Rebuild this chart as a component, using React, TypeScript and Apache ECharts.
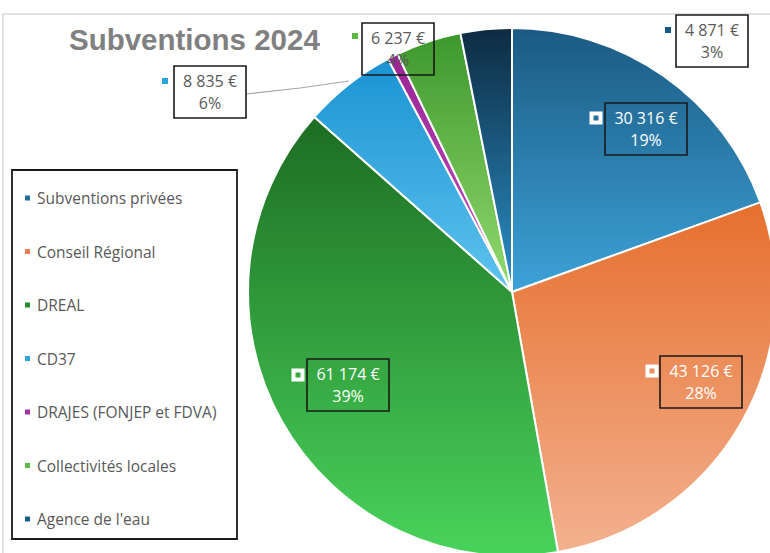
import React, { useEffect, useRef } from "react";
import * as echarts from "echarts";

const categories = [
  "Subventions privées",
  "Conseil Régional",
  "DREAL",
  "CD37",
  "DRAJES (FONJEP et FDVA)",
  "Collectivités locales",
  "Agence de l'eau",
];
const values = [30316, 43126, 61174, 8835, 1000, 6237, 4871];

const gradTop = ["#1b5a82", "#e66f2e", "#1d6d22", "#1a93d2", "#9a2494", "#3d982c", "#0d2b41"];
const gradBottom = ["#3da2d8", "#f3b18f", "#49d35b", "#5fc3ef", "#c452c2", "#93da6e", "#2b91ca"];
const legendColors = ["#1f6e9c", "#e8804a", "#238b2e", "#2aa5e0", "#a631a3", "#5ab844", "#155a82"];

// label layout (centre of each label box / marker), null = no label
const labelCenters: (number[] | null)[] = [[646, 129], [701, 382], [348, 385], [210, 92], null, [398, 49], [712, 41]];
const markerCenters: (number[] | null)[] = [[596, 118], [652, 371], [298, 375], [165, 81], null, [355, 36], [668, 30]];
const insideLabel = [true, true, true, false, false, false, false];

const fmt = (v: number) => v.toString().replace(/\B(?=(\d{3})+(?!\d))/g, " ");
const FONT = "'Open Sans', 'Noto Sans', sans-serif";

export default function App() {
  const ref = useRef<HTMLDivElement>(null);
  useEffect(() => {
    if (!ref.current) return;
    const chart = echarts.init(ref.current, undefined, { renderer: "svg" });

    const mainData = categories.map((name, i) => ({
      name,
      value: values[i],
      itemStyle: {
        color: new echarts.graphic.LinearGradient(0, 0, 0, 1, [
          { offset: 0, color: gradTop[i] },
          { offset: 1, color: gradBottom[i] },
        ]),
      },
      label: {
        show: labelCenters[i] !== null,
        color: insideLabel[i] ? "#ffffff" : "#595959",
        width: insideLabel[i] ? 66 : 56,
      },
      labelLine: { show: i === 3, lineStyle: { color: "#a6a6a6", width: 1.2 } },
    }));

    const markerData = categories.map((name, i) => ({
      name,
      value: values[i],
      label: {
        show: markerCenters[i] !== null,
        formatter: "{m|}",
        rich: {
          m: insideLabel[i]
            ? { width: 9, height: 9, borderColor: "#ffffff", borderWidth: 2, backgroundColor: "transparent" }
            : { width: 6, height: 6, backgroundColor: legendColors[i] },
        },
      },
    }));

    chart.setOption({
      animation: false,
      title: {
        text: "Subventions 2024",
        left: 69,
        top: 22,
        padding: 0,
        textStyle: {
          fontFamily: "'Liberation Sans', Arial, sans-serif",
          fontSize: 29.5,
          fontWeight: "bold",
          color: "#808080",
          lineHeight: 34,
        },
      },
      legend: {
        orient: "vertical",
        left: 23,
        top: 190,
        padding: 0,
        icon: "rect",
        itemWidth: 7,
        itemHeight: 7,
        itemGap: 37.5,
        selectedMode: false,
        textStyle: { fontFamily: FONT, fontSize: 15.5, color: "#595959", lineHeight: 16, padding: [0, 0, 0, 1] },
        data: categories.map((name, i) => ({ name, itemStyle: { color: legendColors[i] } })),
      },
      graphic: [
        {
          type: "rect",
          shape: { x: 3, y: 14, width: 800, height: 600 },
          style: { fill: "none", stroke: "#d9d9d9", lineWidth: 1.5 },
          z: -10,
        },
        {
          type: "rect",
          shape: { x: 12, y: 170, width: 225, height: 369 },
          style: { fill: "none", stroke: "#1a1a1a", lineWidth: 1.8 },
        },
      ],
      series: [
        {
          type: "pie",
          center: [512, 292],
          radius: 264,
          startAngle: 90,
          clockwise: true,
          percentPrecision: 0,
          avoidLabelOverlap: false,
          itemStyle: { borderColor: "#ffffff", borderWidth: 2 },
          emphasis: { disabled: true },
          label: {
            position: "outside",
            formatter: (p: any) => `${fmt(p.value)} €\n${p.percent}%`,
            fontFamily: FONT,
            fontSize: 16,
            lineHeight: 22,
            overflow: "none",
            align: "center",
            padding: [4, 8, 4, 8],
            borderColor: "#1a1a1a",
            borderWidth: 1.6,
          },
          labelLine: { show: false },
          labelLayout: (params: any) => {
            const c = labelCenters[params.dataIndex];
            if (!c) return {};
            const res: any = { x: c[0], y: c[1], align: "center", verticalAlign: "middle" };
            if (params.dataIndex === 3) {
              res.labelLinePoints = [[246, 94], [300, 88], [349, 81]];
            }
            return res;
          },
          data: mainData,
        },
        {
          type: "pie",
          center: [512, 292],
          radius: 264,
          startAngle: 90,
          clockwise: true,
          silent: true,
          avoidLabelOverlap: false,
          itemStyle: { color: "rgba(0,0,0,0)", borderWidth: 0 },
          label: { position: "outside" },
          labelLine: { show: false },
          labelLayout: (params: any) => {
            const c = markerCenters[params.dataIndex];
            if (!c) return {};
            return { x: c[0], y: c[1], align: "center", verticalAlign: "middle" };
          },
          data: markerData,
        },
      ],
    });
    return () => chart.dispose();
  }, []);
  return (
    <div
      ref={ref}
      style={{ position: "fixed", left: 0, top: 0, width: 770, height: 553, background: "#ffffff" }}
    />
  );
}
